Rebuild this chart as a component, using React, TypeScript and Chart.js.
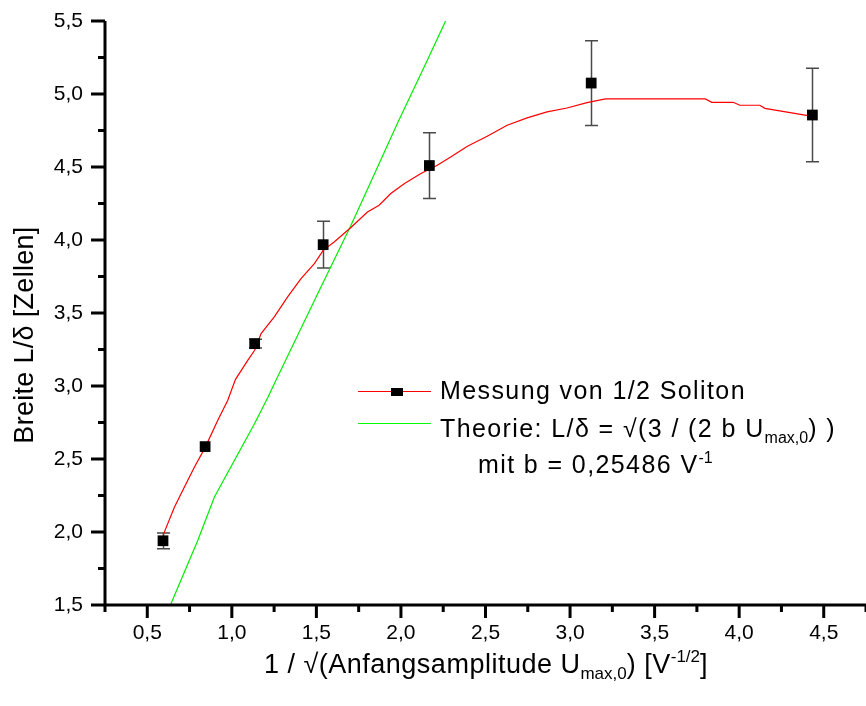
import React, { useEffect, useRef } from 'react';
import { Chart, registerables } from 'chart.js';
Chart.register(...registerables);

// Measurement points (1/sqrt(U), L/delta) with error half-widths
const measX = [0.593, 0.842, 1.135, 1.540, 2.168, 3.125, 4.433];
const measY = [1.94, 2.585, 3.29, 3.968, 4.51, 5.075, 4.856];
const measErr = [0.054, 0.0, 0.03, 0.16, 0.225, 0.29, 0.32];

// Fitted (red) curve
const fitX = [0.593, 0.661, 0.71, 0.779, 0.842, 0.917, 0.976, 1.021, 1.094, 1.135, 1.173, 1.251, 1.33, 1.409, 1.488, 1.54, 1.605, 1.704, 1.802, 1.871, 1.94, 2.019, 2.118, 2.215, 2.294, 2.393, 2.51, 2.628, 2.746, 2.864, 2.982, 3.1, 3.21, 3.8, 3.838, 3.965, 4.004, 4.122, 4.152, 4.433];
const fitY = [1.977, 2.171, 2.286, 2.445, 2.578, 2.765, 2.902, 3.044, 3.176, 3.245, 3.359, 3.473, 3.61, 3.736, 3.838, 3.929, 3.986, 4.086, 4.192, 4.238, 4.318, 4.386, 4.455, 4.512, 4.568, 4.642, 4.71, 4.786, 4.836, 4.877, 4.904, 4.941, 4.966, 4.966, 4.943, 4.943, 4.923, 4.923, 4.902, 4.847];

// Theory (green) curve
const theoX = [0.637, 0.799, 0.897, 1.133, 1.212, 1.261, 1.527, 1.704, 1.763, 1.978, 2.156, 2.264];
const theoY = [1.5, 1.943, 2.24, 2.74, 2.92, 3.039, 3.678, 4.1, 4.249, 4.797, 5.231, 5.5];

// Axis ticks
const xMajor = [0.5, 1.0, 1.5, 2.0, 2.5, 3.0, 3.5, 4.0, 4.5];
const xMinor = [0.25, 0.75, 1.25, 1.75, 2.25, 2.75, 3.25, 3.75, 4.25, 4.75];
const yMajor = [1.5, 2.0, 2.5, 3.0, 3.5, 4.0, 4.5, 5.0, 5.5];
const yMinor = [1.75, 2.25, 2.75, 3.25, 3.75, 4.25, 4.75, 5.25];

const legendLabels = ['Messung von 1/2 Soliton', 'Theorie: L/\u03b4 = \u221a(3 / (2 b U', 'max,0', ') )', 'mit b = 0,25486 V', '-1'];
const yTitle = 'Breite L/\u03b4 [Zellen]';
const xTitleParts = ['1 / \u221a(Anfangsamplitude U', 'max,0', ') [V', '-1/2', ']'];

const FAM = '"Liberation Sans", Arial, Helvetica, sans-serif';

type Seg = { t: string; s?: 'sub' | 'sup' };

function drawRich(ctx: any, segs: Seg[], x: number, y: number, size: number, align: 'left' | 'center', spacing = 0) {
  const small = Math.round(size * 0.62);
  const widths = segs.map((sg) => {
    ctx.font = `${sg.s ? small : size}px ${FAM}`;
    ctx.letterSpacing = sg.s ? '0px' : `${spacing}px`;
    return ctx.measureText(sg.t).width;
  });
  const total = widths.reduce((a, b) => a + b, 0);
  let cx = align === 'center' ? x - total / 2 : x;
  ctx.textAlign = 'left';
  ctx.textBaseline = 'alphabetic';
  segs.forEach((sg, i) => {
    ctx.font = `${sg.s ? small : size}px ${FAM}`;
    ctx.letterSpacing = sg.s ? '0px' : `${spacing}px`;
    const dy = sg.s === 'sub' ? size * 0.22 : sg.s === 'sup' ? -size * 0.42 : 0;
    ctx.fillText(sg.t, cx, y + dy);
    cx += widths[i];
  });
  ctx.letterSpacing = '0px';
}

const overlay = {
  id: 'overlay',
  beforeDatasetsDraw(chart: any) {
    const { ctx, scales } = chart;
    const xs = scales.x, ys = scales.y;
    ctx.save();
    ctx.strokeStyle = '#4a4a4a';
    ctx.lineWidth = 1.5;
    measX.forEach((xv, i) => {
      const e = measErr[i];
      if (!e) return;
      const px = Math.round(xs.getPixelForValue(xv)) + 0.5;
      const top = ys.getPixelForValue(measY[i] + e);
      const bot = ys.getPixelForValue(measY[i] - e);
      ctx.beginPath();
      ctx.moveTo(px, top); ctx.lineTo(px, bot);
      ctx.moveTo(px - 6.5, top); ctx.lineTo(px + 6.5, top);
      ctx.moveTo(px - 6.5, bot); ctx.lineTo(px + 6.5, bot);
      ctx.stroke();
    });
    ctx.restore();
  },
  afterDraw(chart: any) {
    const { ctx, scales, chartArea } = chart;
    const xs = scales.x, ys = scales.y;
    ctx.save();
    ctx.strokeStyle = '#000';
    ctx.lineWidth = 3;
    const ax = chartArea.left;
    const ay = chartArea.bottom;
    // axis lines
    ctx.beginPath();
    ctx.moveTo(ax, chartArea.top);
    ctx.lineTo(ax, ay + 1.5);
    ctx.moveTo(ax - 1.5, ay);
    ctx.lineTo(chartArea.right, ay);
    ctx.stroke();
    // ticks
    ctx.beginPath();
    yMajor.forEach((v) => { const p = ys.getPixelForValue(v); ctx.moveTo(ax - 14, p); ctx.lineTo(ax, p); });
    yMinor.forEach((v) => { const p = ys.getPixelForValue(v); ctx.moveTo(ax - 7, p); ctx.lineTo(ax, p); });
    xMajor.forEach((v) => { const p = xs.getPixelForValue(v); ctx.moveTo(p, ay); ctx.lineTo(p, ay + 13); });
    xMinor.forEach((v) => { const p = xs.getPixelForValue(v); ctx.moveTo(p, ay); ctx.lineTo(p, ay + 7); });
    ctx.stroke();

    ctx.fillStyle = '#000';
    // x title
    drawRich(ctx, [
      { t: xTitleParts[0] }, { t: xTitleParts[1], s: 'sub' }, { t: xTitleParts[2] }, { t: xTitleParts[3], s: 'sup' }, { t: xTitleParts[4] },
    ], 486, 673, 27, 'center', 0.5);
    // y title
    ctx.save();
    ctx.translate(33, 335);
    ctx.rotate(-Math.PI / 2);
    drawRich(ctx, [{ t: yTitle }], 0, 0, 27, 'center', 0.3);
    ctx.restore();

    // legend
    ctx.lineWidth = 1;
    ctx.strokeStyle = '#ff0000';
    ctx.beginPath(); ctx.moveTo(358, 391.5); ctx.lineTo(431, 391.5); ctx.stroke();
    ctx.fillStyle = '#000';
    ctx.fillRect(391, 388, 12, 8);
    ctx.strokeStyle = '#00ff00';
    ctx.beginPath(); ctx.moveTo(358, 423.5); ctx.lineTo(431, 423.5); ctx.stroke();
    drawRich(ctx, [{ t: legendLabels[0] }], 440, 399, 25, 'left', 1.4);
    drawRich(ctx, [{ t: legendLabels[1] }, { t: legendLabels[2], s: 'sub' }, { t: legendLabels[3] }], 440, 437, 25, 'left', 1.4);
    drawRich(ctx, [{ t: legendLabels[4] }, { t: legendLabels[5], s: 'sup' }], 478, 473, 25, 'left', 1.4);
    ctx.restore();
  },
};

const fmt = (v: number) => v.toFixed(1).replace('.', ',');

export default function App() {
  const ref = useRef<HTMLCanvasElement | null>(null);
  useEffect(() => {
    if (!ref.current) return;
    const chart = new Chart(ref.current, {
      type: 'scatter',
      data: {
        datasets: [
          {
            label: 'Messung',
            data: measX.map((x, i) => ({ x, y: measY[i] })),
            showLine: false,
            pointStyle: 'rect',
            pointRadius: 7.6,
            pointBackgroundColor: '#000',
            pointBorderColor: '#000',
            pointBorderWidth: 0,
          },
          {
            label: 'Fit',
            data: fitX.map((x, i) => ({ x, y: fitY[i] })),
            showLine: true,
            borderColor: '#ff0000',
            borderWidth: 1.2,
            pointRadius: 0,
            tension: 0,
          },
          {
            label: 'Theorie',
            data: theoX.map((x, i) => ({ x, y: theoY[i] })),
            showLine: true,
            borderColor: '#00ee00',
            borderWidth: 1.2,
            pointRadius: 0,
            tension: 0,
          },
        ],
      },
      options: {
        animation: false,
        responsive: false,
        layout: { autoPadding: false, padding: { top: 21, left: 0, right: 0, bottom: 0 } },
        plugins: { legend: { display: false }, tooltip: { enabled: false } },
        scales: {
          x: {
            type: 'linear',
            min: 0.25,
            max: 4.75,
            grid: { display: false, drawTicks: false },
            border: { display: false },
            afterBuildTicks: (s: any) => { s.ticks = xMajor.map((v) => ({ value: v })); },
            afterFit: (s: any) => { s.height = 101; s.paddingLeft = 0; s.paddingRight = 0; },
            ticks: {
              autoSkip: false,
              maxRotation: 0,
              padding: 16,
              color: '#000',
              font: { family: FAM, size: 21 },
              callback: (v: any) => fmt(Number(v)),
            },
          },
          y: {
            type: 'linear',
            min: 1.5,
            max: 5.5,
            grid: { display: false, drawTicks: false },
            border: { display: false },
            afterBuildTicks: (s: any) => { s.ticks = yMajor.map((v) => ({ value: v })); },
            afterFit: (s: any) => { s.width = 105; s.paddingTop = 0; s.paddingBottom = 0; },
            ticks: {
              autoSkip: false,
              padding: 22,
              color: '#000',
              font: { family: FAM, size: 21 },
              callback: (v: any) => fmt(Number(v)),
            },
          },
        },
      },
      plugins: [overlay],
    } as any);
    return () => chart.destroy();
  }, []);
  return (
    <div style={{ position: 'absolute', left: 0, top: 0, width: 866, height: 706, background: '#fff' }}>
      <canvas ref={ref} width={866} height={706} style={{ display: 'block' }} />
    </div>
  );
}
